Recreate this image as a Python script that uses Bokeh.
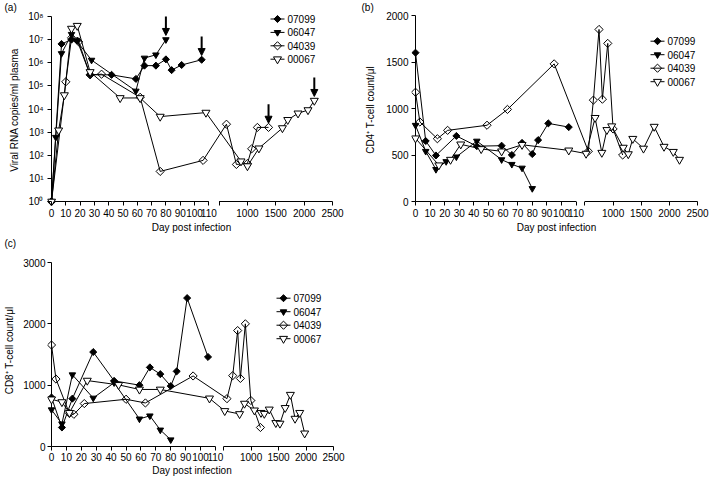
import math
from bokeh.plotting import figure
from bokeh.models import (Range1d, FixedTicker, CustomJSTickFormatter, Arrow, NormalHead,
                          ColumnDataSource, Title)
from bokeh.core.properties import value
from bokeh.layouts import row, column
from bokeh.embed import file_html
from bokeh.resources import INLINE

FONT = "Liberation Sans"
FS = "10px"

SERIES = ["07099", "06047", "04039", "00067"]

# ---------------- (a) viral RNA copies / ml plasma ----------------
a_07099_day = [0, 7, 14, 18, 27, 42, 59, 65, 73, 80, 84, 91, 105]
a_07099_val = [1, 6.5e6, 1.0e7, 9e6, 3.0e5, 3.0e5, 2.0e5, 7.5e5, 7.5e5, 1.4e6, 4.8e5, 8.0e5, 1.35e6]
a_06047_day = [0, 3, 7, 14, 28, 59, 65, 73, 80]
a_06047_val = [1, 6e2, 2.5e6, 1.7e7, 1.3e6, 6e4, 1.6e6, 2.2e6, 1.0e7]
a_04039_day = [0, 10, 14, 19, 27, 35, 62, 76, 106, 630, 805, 1000, 1075, 1175, 1372]
a_04039_val = [1, 1.5e5, 1.2e7, 8e6, 3e5, 3.2e5, 3.2e4, 20, 60, 2.2e3, 40, 44, 190, 1.6e3, 1.6e3]
a_00067_day = [0, 5, 9, 14, 18, 27, 48, 62, 76, 108, 886, 1000, 1202, 1617, 1711, 1892, 2068, 2179]
a_00067_val = [1, 1.2e3, 4e4, 3e7, 4e7, 4e5, 3e4, 3e4, 4.7e3, 7e3, 55, 34, 200, 1.5e3, 3.4e3, 6.5e3, 9e3, 2.3e4]

# ---------------- (b) CD4+ T-cell count / ul ----------------
b_07099_day = [0, 7, 14, 28, 42, 59, 66, 73, 80, 84, 91, 105]
b_07099_val = [1600, 650, 495, 705, 595, 600, 500, 630, 510, 660, 840, 800]
b_06047_day = [0, 7, 14, 21, 28, 42, 59, 66, 73, 80]
b_06047_val = [820, 540, 345, 430, 480, 650, 450, 400, 360, 140]
b_04039_day = [0, 3, 15, 22, 49, 63, 95, 560, 650, 750, 810, 905, 1000, 1170]
b_04039_val = [1175, 855, 675, 765, 820, 990, 1480, 540, 1090, 1850, 1100, 1700, 780, 500]
b_00067_day = [0, 16, 24, 31, 45, 59, 73, 105, 520, 680, 800, 890, 975, 1180, 1270, 1350,
               1540, 1730, 1905, 2070, 2180]
b_00067_val = [680, 390, 450, 615, 565, 540, 610, 550, 515, 900, 525, 770, 810, 580, 510, 675,
               570, 805, 590, 535, 450]

# ---------------- (c) CD8+ T-cell count / ul ----------------
c_07099_day = [0, 7, 14, 28, 42, 59, 66, 73, 80, 84, 91, 105]
c_07099_val = [800, 310, 780, 1540, 1070, 1000, 1290, 1180, 985, 1225, 2420, 1460]
c_06047_day = [0, 7, 14, 28, 42, 59, 66, 73, 80]
c_06047_val = [600, 370, 1170, 790, 1040, 450, 500, 270, 110]
c_04039_day = [0, 3, 12, 15, 22, 50, 63, 95, 560, 665, 755, 805, 895, 995, 1170]
c_04039_val = [1655, 1100, 540, 525, 700, 770, 710, 1150, 780, 1155, 1890, 1110, 2000, 750, 310]
c_00067_day = [0, 7, 12, 24, 45, 59, 73, 106, 520, 790, 880, 1060, 1180, 1240, 1330, 1450,
               1525, 1620, 1715, 1800, 1885, 1975]
c_00067_val = [770, 725, 550, 1075, 1005, 930, 930, 785, 580, 530, 700, 590, 550, 535, 605, 385,
               375, 630, 845, 455, 550, 215]

# ---------------- axis definitions ----------------
SEG1_END = 110
SEG2_START = 500
SEG2_END = 2500
X1_TICKS = list(range(0, 111, 10))
X1_LABELS = [str(t) for t in X1_TICKS]
X2_TICKS = [500, 1000, 1500, 2000, 2500]
X2_LABELS = ["", "1000", "1500", "2000", "2500"]
A_YTICKS = [10 ** e for e in range(0, 9)]
B_YTICKS = [0, 500, 1000, 1500, 2000]
C_YTICKS = [0, 1000, 2000, 3000]
SUP = ["\u2070", "\u00b9", "\u00b2", "\u00b3", "\u2074", "\u2075", "\u2076", "\u2077", "\u2078"]

STYLE = {
    "07099": dict(marker="square", size=5.0, angle=math.pi / 4, fill="black"),
    "06047": dict(marker="inverted_triangle", size=6.5, angle=0.0, fill="black"),
    "04039": dict(marker="square", size=5.8, angle=math.pi / 4, fill=None),
    "00067": dict(marker="inverted_triangle", size=8, angle=0.0, fill="white"),
}


def make_xt(gap, scale):
    def xt(d):
        return d if d <= SEG1_END else SEG1_END + gap + (d - SEG2_START) * scale
    return xt


def build(fig_left, fig_top, width, height, frame, end_px, top_px, gap, scale, ylog, ymax,
          yticks, ylabel, series, legend_pos, letter, letter_x, tick_sto, lab_sto,
          xtick_sto, xlab_sto, arrows=False):
    fl, ft, fr, fb = frame
    W, H = fr - fl, fb - ft
    xt = make_xt(gap, scale)
    day0_px = fl + 4
    kx = (end_px - day0_px) / xt(SEG2_END)
    x0 = -4 / kx
    x1 = x0 + W / kx
    base_px = fb - 4
    if ylog:
        ky = (base_px - top_px) / math.log10(ymax)
        ly0 = -4 / ky
        yr = Range1d(10 ** ly0, 10 ** (ly0 + H / ky))
        base = 1

        def dy(py):
            return 10 ** (ly0 + (fb - py) / ky)
    else:
        ky = (base_px - top_px) / ymax
        y0 = -4 / ky
        yr = Range1d(y0, y0 + H / ky)
        base = 0

        def dy(py):
            return y0 + (fb - py) / ky

    def dx(px):
        return x0 + (px - fl) / kx

    p = figure(width=width, height=height, output_backend="svg", toolbar_location=None,
               x_range=Range1d(x0, x1), y_range=yr,
               y_axis_type="log" if ylog else "linear",
               min_border_left=fl - fig_left, min_border_right=fig_left + width - fr,
               min_border_top=ft - fig_top, min_border_bottom=fig_top + height - fb,
               title=None)
    p.xgrid.visible = False
    p.ygrid.visible = False
    p.outline_line_color = None
    p.background_fill_color = "white"
    p.border_fill_color = "white"

    p.add_layout(Title(text=letter, align="left", offset=letter_x - fl, standoff=0,
                       vertical_align="top", text_font=FONT, text_font_size=FS,
                       text_font_style="normal", text_color="black"), "above")

    # axis lines (broken x axis)
    p.segment(x0=[xt(0), xt(SEG2_START)], y0=[base, base],
              x1=[xt(SEG1_END), xt(SEG2_END)], y1=[base, base],
              line_color="black", line_width=1)
    p.segment(x0=[0], y0=[base], x1=[0], y1=[ymax], line_color="black", line_width=1)

    xa = p.xaxis[0]
    pos = [xt(t) for t in X1_TICKS + X2_TICKS]
    xa.ticker = FixedTicker(ticks=pos)
    xa.formatter = CustomJSTickFormatter(
        args=dict(pos=pos, lab=X1_LABELS + X2_LABELS),
        code="for (let i = 0; i < pos.length; i++) { if (Math.abs(tick - pos[i]) < 1e-6) return lab[i]; } return '';")
    xa.axis_label = "Day post infection"
    xa.major_label_standoff = xtick_sto
    xa.axis_label_standoff = xlab_sto

    ya = p.yaxis[0]
    ya.ticker = FixedTicker(ticks=yticks)
    if ylog:
        ya.formatter = CustomJSTickFormatter(
            args=dict(sup=SUP),
            code="return '10' + sup[Math.round(Math.log10(tick))];")
    ya.axis_label = ylabel
    ya.major_label_standoff = tick_sto
    ya.axis_label_standoff = lab_sto

    for ax in (xa, ya):
        ax.axis_line_color = None
        ax.major_tick_in = 4
        ax.major_tick_out = 0
        ax.major_tick_line_color = "black"
        ax.major_tick_line_width = 1
        ax.minor_tick_line_color = None
        ax.major_label_text_font = FONT
        ax.major_label_text_font_size = FS
        ax.major_label_text_color = "black"
        ax.axis_label_text_font = FONT
        ax.axis_label_text_font_size = FS
        ax.axis_label_text_font_style = "normal"
        ax.axis_label_text_color = "black"

    for name, days, vals in series:
        xs = [xt(d) for d in days]
        st = STYLE[name]
        p.line(xs, vals, line_color="black", line_width=1)
        p.scatter(xs, vals, marker=st["marker"], size=st["size"], angle=st["angle"],
                  line_color="black", line_width=1, fill_color=st["fill"])

    if arrows:
        src = ColumnDataSource(dict(
            x=[xt(days[-1]) for _, days, _ in series],
            ys=[vals[-1] * 10 ** 1.0 for _, _, vals in series],
            ye=[vals[-1] * 10 ** 0.18 for _, _, vals in series]))
        p.add_layout(Arrow(end=NormalHead(size=7, fill_color="black", line_color="black",
                                          line_width=1),
                           source=src, x_start="x", y_start="ys", x_end="x", y_end="ye",
                           line_color="black", line_width=2))

    # legend (glyph line + marker + label) placed inside the plot frame
    lx, ly, step = legend_pos
    for i, (name, _, _) in enumerate(series):
        cy = dy(ly + i * step)
        st = STYLE[name]
        p.segment(x0=[dx(lx)], y0=[cy], x1=[dx(lx + 14)], y1=[cy], line_color="black",
                  line_width=1)
        p.scatter([dx(lx + 7)], [cy], marker=st["marker"], size=st["size"], angle=st["angle"],
                  line_color="black", line_width=1, fill_color=st["fill"])
        p.text([dx(lx + 17)], [cy], text=[name], text_font=value(FONT),
               text_font_size=value(FS), text_baseline="middle", text_align="left",
               text_color="black")
    return p


pa = build(0, 0, 355, 236, (47, 14, 335, 205), 332, 16, 7.2, 0.03965, True, 1e8, A_YTICKS,
           "Viral RNA copies/ml plasma",
           [("07099", a_07099_day, a_07099_val), ("06047", a_06047_day, a_06047_val),
            ("04039", a_04039_day, a_04039_val), ("00067", a_00067_day, a_00067_val)],
           (270, 18.5, 13.4), "(a)", 4, 4, 5, 3, 2, arrows=True)

pb = build(355, 0, 354, 236, (411, 14, 701, 205), 697, 15, 6.1, 0.03855, False, 2000, B_YTICKS,
           "CD4\u207a T-cell count/\u03bcl",
           [("07099", b_07099_day, b_07099_val), ("06047", b_06047_day, b_06047_val),
            ("04039", b_04039_day, b_04039_val), ("00067", b_00067_day, b_00067_val)],
           (650, 40.7, 13.5), "(b)", 361, 3, 7, 3, 2)

pc = build(0, 236, 355, 244, (47, 250, 336, 450), 333, 262, 5.5, 0.03685, False, 3000, C_YTICKS,
           "CD8\u207a T-cell count/\u03bcl",
           [("07099", c_07099_day, c_07099_val), ("06047", c_06047_day, c_06047_val),
            ("04039", c_04039_day, c_04039_val), ("00067", c_00067_day, c_00067_val)],
           (276, 297.7, 13.5), "(c)", 4, 2, 5, 2, 1)

layout = column(row(pa, pb), pc)
open("out.html", "w").write(file_html(layout, INLINE))
